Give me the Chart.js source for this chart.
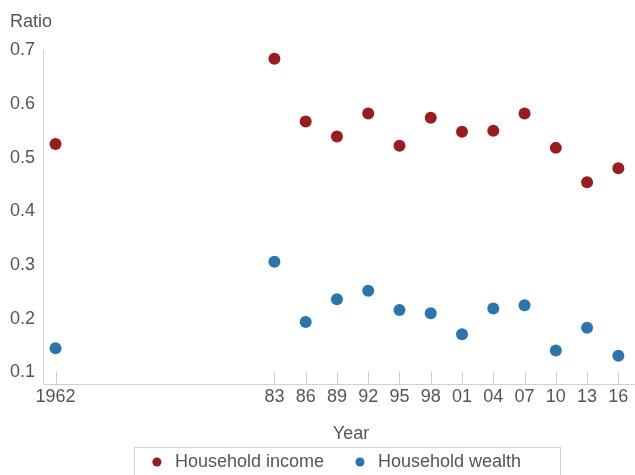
<!DOCTYPE html>
<html><head><meta charset="utf-8">
<script src="https://cdn.jsdelivr.net/npm/chart.js@4/dist/chart.umd.min.js"></script>
<style>html,body{margin:0;padding:0;overflow:hidden;background:#fff}#wrap{width:685px;height:475px;position:relative}</style>
</head><body><div id="wrap"><canvas id="c" width="685" height="475"></canvas></div>
<script>
const years = [1962, 1983, 1986, 1989, 1992, 1995, 1998, 2001, 2004, 2007, 2010, 2013, 2016];
const yearLabels = ['1962', '83', '86', '89', '92', '95', '98', '01', '04', '07', '10', '13', '16'];
const householdIncome = [0.525, 0.684, 0.567, 0.539, 0.582, 0.522, 0.574, 0.548, 0.550, 0.582, 0.518, 0.454, 0.480];
const householdWealth = [0.145, 0.306, 0.194, 0.236, 0.252, 0.216, 0.210, 0.171, 0.219, 0.225, 0.141, 0.183, 0.131];
const yTicks = [0.1, 0.2, 0.3, 0.4, 0.5, 0.6, 0.7];

const TEXT = '#555555';
const AXIS = '#d3cfcb';
const FONT = 'Liberation Sans, Arial, sans-serif';

const insideTicks = {
  id: 'insideTicks',
  afterDatasetsDraw(chart) {
    const x = chart.scales.x, ctx = chart.ctx;
    ctx.save();
    ctx.strokeStyle = AXIS; ctx.lineWidth = 1;
    x.ticks.forEach(t => {
      const px = Math.round(x.getPixelForValue(t.value)) + 0.5;
      ctx.beginPath(); ctx.moveTo(px, x.top - 13); ctx.lineTo(px, x.top); ctx.stroke();
    });
    ctx.restore();
  }
};
const legendBox = {
  id: 'legendBox',
  afterDraw(chart) {
    const hb = chart.legend.legendHitBoxes;
    if (!hb || !hb.length) return;
    const first = hb[0], last = hb[hb.length - 1];
    const cy = first.top + first.height / 2;
    const ctx = chart.ctx;
    ctx.save();
    ctx.strokeStyle = AXIS; ctx.lineWidth = 1;
    const l = Math.round(first.left - 14);
    ctx.strokeRect(l + 0.5, Math.round(cy - 15) + 0.5,
      Math.round(last.left + last.width + 39) - l, 34);
    ctx.restore();
  }
};

const toPts = arr => arr.map((v, i) => ({x: years[i], y: v}));

new Chart(document.getElementById('c'), {
  type: 'scatter',
  data: {
    datasets: [
      {label: 'Household income', data: toPts(householdIncome), backgroundColor: '#9b1c20', borderColor: '#9b1c20', pointRadius: 6, borderWidth: 0},
      {label: 'Household wealth', data: toPts(householdWealth), backgroundColor: '#2a75ab', borderColor: '#2a75ab', pointRadius: 6, borderWidth: 0}
    ]
  },
  options: {
    responsive: false,
    animation: false,
    devicePixelRatio: 1,
    events: [],
    layout: {autoPadding: false, padding: {left: 10, right: 26, top: 0, bottom: -6}},
    plugins: {
      tooltip: {enabled: false},
      title: {display: true, text: 'Ratio', align: 'start', color: TEXT,
        font: {family: FONT, size: 18, weight: 'normal'}, padding: {top: 11, bottom: 17.5}},
      legend: {position: 'bottom',
        labels: {usePointStyle: true, pointStyle: 'circle', boxHeight: 6.4, color: TEXT, padding: 27,
          font: {family: FONT, size: 18}}}
    },
    scales: {
      x: {type: 'linear', min: 1960.8, max: 2019.9,
        afterBuildTicks: s => { s.ticks = years.map(v => ({value: v})); },
        grid: {display: false, drawTicks: false},
        border: {display: true, color: AXIS, width: 1},
        ticks: {color: TEXT, font: {family: FONT, size: 18}, padding: 1.5, maxRotation: 0, autoSkip: false,
          callback: (v, i) => yearLabels[i]},
        title: {display: true, text: 'Year', color: TEXT, font: {family: FONT, size: 18}, padding: {top: 14.3, bottom: -19}}
      },
      y: {min: 0.0775, max: 0.7,
        afterBuildTicks: s => { s.ticks = yTicks.map(v => ({value: v})); },
        grid: {display: false, drawTicks: false},
        border: {display: true, color: AXIS, width: 1},
        ticks: {color: TEXT, font: {family: FONT, size: 18}, padding: 4, crossAlign: 'far',
          callback: v => v.toFixed(1)}
      }
    }
  },
  plugins: [insideTicks, legendBox]
});
</script></body></html>
